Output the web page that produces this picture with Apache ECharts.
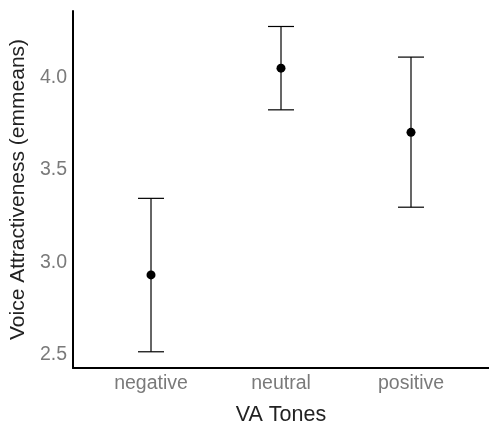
<!DOCTYPE html>
<html><head><meta charset="utf-8">
<script src="https://cdn.jsdelivr.net/npm/echarts@6/dist/echarts.min.js"></script>
<style>html,body{margin:0;padding:0;background:#fff}#c{width:489px;height:431px}</style>
</head><body><div id="c"></div>
<script>
const categories = ['negative', 'neutral', 'positive'];
const means = [2.931, 4.052, 3.704];
const lowers = [2.514, 3.826, 3.298];
const uppers = [3.346, 4.278, 4.112];
const yTicks = [2.5, 3.0, 3.5, 4.0];
const xPos = categories.map((c, i) => i + 1);

const chart = echarts.init(document.getElementById('c'));
const font = 'Liberation Sans, Arial, sans-serif';
chart.setOption({
  animation: false,
  grid: { left: 73, top: 11, width: 420, height: 364 },
  xAxis: {
    type: 'value', min: 0.4, max: 3.6,
    name: 'VA Tones', nameLocation: 'middle', nameGap: 36,
    nameTextStyle: { color: '#222', fontSize: 21.5, fontFamily: font },
    axisLine: { lineStyle: { color: '#000', width: 2 } },
    axisTick: { show: false },
    splitLine: { show: false },
    axisLabel: { customValues: xPos, margin: 6, color: '#7a7a7a', fontSize: 19.5, fontFamily: font,
      formatter: v => categories[Math.round(v) - 1] || '' }
  },
  yAxis: {
    type: 'value', min: 2.426, max: 4.362,
    name: 'Voice Attractiveness (emmeans)', nameLocation: 'middle', nameGap: 37,
    nameTextStyle: { color: '#222', fontSize: 21, fontFamily: font },
    axisLine: { show: true, lineStyle: { color: '#000', width: 2 } },
    axisTick: { show: false },
    splitLine: { show: false },
    axisLabel: { customValues: yTicks, margin: 6, color: '#7a7a7a', fontSize: 19.5, fontFamily: font,
      formatter: v => v.toFixed(1) }
  },
  series: [
    {
      type: 'custom',
      data: xPos.map((x, i) => [x, lowers[i], uppers[i]]),
      renderItem: function (params, api) {
        const x = api.value(0);
        const lo = api.coord([x, api.value(1)]);
        const hi = api.coord([x, api.value(2)]);
        const hw = 13;
        const style = { stroke: '#000', lineWidth: 1.2 };
        return { type: 'group', children: [
          { type: 'line', shape: { x1: lo[0], y1: lo[1], x2: hi[0], y2: hi[1] }, style },
          { type: 'line', shape: { x1: lo[0] - hw, y1: lo[1], x2: lo[0] + hw, y2: lo[1] }, style },
          { type: 'line', shape: { x1: hi[0] - hw, y1: hi[1], x2: hi[0] + hw, y2: hi[1] }, style }
        ]};
      },
      z: 2
    },
    {
      type: 'scatter',
      data: xPos.map((x, i) => [x, means[i]]),
      symbolSize: 9,
      itemStyle: { color: '#000', opacity: 1 },
      z: 3
    }
  ]
});
</script></body></html>
